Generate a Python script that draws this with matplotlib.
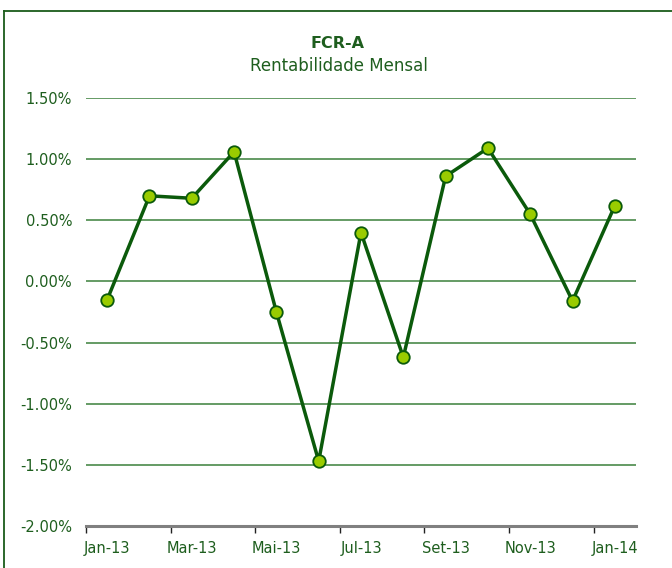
import matplotlib
matplotlib.use("Agg")
import matplotlib.pyplot as plt
from matplotlib.lines import Line2D
from matplotlib.ticker import FuncFormatter, FixedLocator

months = ["Jan-13", "Fev-13", "Mar-13", "Abr-13", "Mai-13", "Jun-13", "Jul-13",
          "Ago-13", "Set-13", "Out-13", "Nov-13", "Dez-13", "Jan-14"]
values = [-0.15, 0.70, 0.68, 1.06, -0.25, -1.47, 0.40, -0.62, 0.86, 1.09, 0.55, -0.16, 0.62]
title = "FCR-A"
subtitle = "Rentabilidade Mensal"

text_green = "#1e5e1e"
line_green = "#0b5a0b"
grid_green = "#4a8a4a"
marker_fill = "#99cc00"

fig = plt.figure(figsize=(6.72, 5.68), dpi=100)
ax = fig.add_axes([86/672, 1-526/568, 550/672, 428/568])

x = list(range(len(months)))
ax.plot(x, values, color=line_green, lw=2.5, marker="o", ms=9,
        markerfacecolor=marker_fill, markeredgecolor=line_green, markeredgewidth=1.3,
        zorder=3, clip_on=False)

ax.set_xlim(-0.5, len(months) - 0.5)
ax.set_ylim(-2.0, 1.5)
ax.set_yticks([-2.0, -1.5, -1.0, -0.5, 0.0, 0.5, 1.0, 1.5])
ax.yaxis.set_major_formatter(FuncFormatter(lambda v, p: f"{v:.2f}%"))
ax.tick_params(axis="y", length=0, pad=10, labelsize=10.5, labelcolor=text_green)
ax.grid(axis="y", color=grid_green, lw=1.2)
ax.set_axisbelow(True)

# x ticks: marks at category boundaries, labels under every other category
ax.xaxis.set_major_locator(FixedLocator([i - 0.5 for i in range(0, len(months), 2)]))
ax.xaxis.set_major_formatter(FuncFormatter(lambda v, p: ""))
ax.xaxis.set_minor_locator(FixedLocator(list(range(0, len(months), 2))))
ax.set_xticklabels([months[i] for i in range(0, len(months), 2)], minor=True)
ax.tick_params(axis="x", which="major", length=5, width=1, color="#222222", direction="out")
ax.tick_params(axis="x", which="minor", length=0, pad=11, labelsize=10.5, labelcolor=text_green)

for s in ["top", "right", "left"]:
    ax.spines[s].set_visible(False)
ax.spines["bottom"].set_color("#808080")
ax.spines["bottom"].set_linewidth(2.2)

fig.text(337/672, 1-43/568, title, ha="center", va="center", fontsize=11.5,
         fontweight="bold", color=text_green)
fig.text(339/672, 1-66/568, subtitle, ha="center", va="center", fontsize=12,
         color=text_green)

# border (top and left visible)
fig.add_artist(Line2D([3.5/672, 3.5/672], [0, 1-10.5/568], transform=fig.transFigure,
                      color="#1a5c1a", lw=1.3))
fig.add_artist(Line2D([3.5/672, 1], [1-10.5/568, 1-10.5/568], transform=fig.transFigure,
                      color="#1a5c1a", lw=1.3))

fig.savefig("out.png", dpi=100, facecolor="white")
